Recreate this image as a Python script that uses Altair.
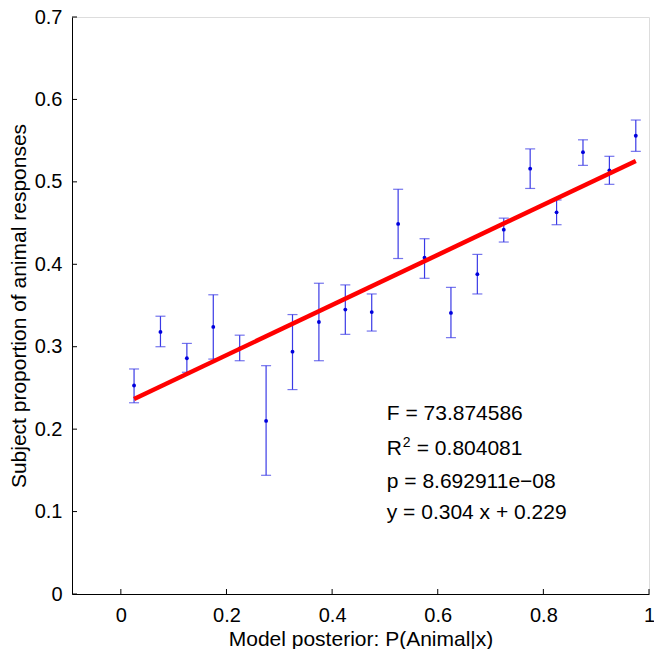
import altair as alt
import pandas as pd

# ---- data ----
bin_x = [0.025, 0.075, 0.125, 0.175, 0.225, 0.275, 0.325, 0.375, 0.425, 0.475,
         0.525, 0.575, 0.625, 0.675, 0.725, 0.775, 0.825, 0.875, 0.925, 0.975]
mean_y = [0.253, 0.318, 0.286, 0.324, 0.298, 0.210, 0.294, 0.330, 0.345, 0.342,
          0.449, 0.408, 0.341, 0.388, 0.442, 0.516, 0.463, 0.536, 0.514, 0.556]
upper_y = [0.273, 0.337, 0.304, 0.363, 0.314, 0.277, 0.339, 0.377, 0.375, 0.364,
           0.491, 0.431, 0.372, 0.412, 0.456, 0.540, 0.478, 0.551, 0.531, 0.575]
lower_y = [0.232, 0.300, 0.269, 0.285, 0.283, 0.144, 0.248, 0.283, 0.315, 0.319,
           0.407, 0.383, 0.311, 0.364, 0.427, 0.492, 0.448, 0.520, 0.497, 0.537]

fit_x = [0.025, 0.975]
fit_y = [0.2366, 0.5254]

x_ticks = [0, 0.2, 0.4, 0.6, 0.8, 1]
y_ticks = [0, 0.1, 0.2, 0.3, 0.4, 0.5, 0.6, 0.7]

ann_lines = ["F = 73.874586", "R", "p = 8.692911e\u221208", "y = 0.304 x + 0.229"]
ann_y = [0.2107, 0.1683, 0.1288, 0.0906]
ann_x = 0.5035
r2_rest = "= 0.804081"
r2_sup = "2"

FONT = "Liberation Sans"

df = pd.DataFrame({"x": bin_x, "m": mean_y, "hi": upper_y, "lo": lower_y})
fit = pd.DataFrame({"x": fit_x, "y": fit_y})
ann = pd.DataFrame({"x": [ann_x] * 4, "y": ann_y, "t": ann_lines})
r2 = pd.DataFrame({"x": [ann_x], "y": [ann_y[1]], "t": [r2_rest], "s": [r2_sup]})
xt = pd.DataFrame({"v": x_ticks})
yt = pd.DataFrame({"v": y_ticks})

xscale = alt.Scale(domain=[-0.0925, 1], nice=False, zero=False)
yscale = alt.Scale(domain=[0, 0.7], nice=False, zero=False)

xaxis = alt.Axis(values=x_ticks, format="~g", ticks=False, grid=False,
                 domainColor="black", domainWidth=1,
                 labelFont=FONT, labelFontSize=20, labelColor="black",
                 labelPadding=11, labelFlush=False, labelOverlap=False,
                 title="Model posterior: P(Animal|x)", titleFont=FONT,
                 titleFontSize=21, titleFontWeight="normal", titleColor="black",
                 titleBaseline="alphabetic", titleY=51)
yaxis = alt.Axis(values=y_ticks, format="~g", ticks=False, grid=False,
                 domainColor="black", domainWidth=1,
                 labelFont=FONT, labelFontSize=20, labelColor="black",
                 labelPadding=10, labelFlush=False, labelOverlap=False,
                 title="Subject proportion of animal responses", titleFont=FONT,
                 titleFontSize=21, titleFontWeight="normal", titleColor="black",
                 titleBaseline="alphabetic", titleAngle=270, titleX=-47,
                 titleY=288.5, titleAlign="center")

ERR = "#3a3ae6"

bars = alt.Chart(df).mark_rule(color=ERR, strokeWidth=1.2).encode(
    x=alt.X("x:Q", scale=xscale, axis=xaxis),
    y=alt.Y("lo:Q", scale=yscale, axis=yaxis),
    y2="hi:Q",
)
cap_hi = alt.Chart(df).mark_tick(color=ERR, orient="horizontal", size=10, thickness=1.2).encode(
    x=alt.X("x:Q", scale=xscale), y=alt.Y("hi:Q", scale=yscale))
cap_lo = alt.Chart(df).mark_tick(color=ERR, orient="horizontal", size=10, thickness=1.2).encode(
    x=alt.X("x:Q", scale=xscale), y=alt.Y("lo:Q", scale=yscale))
dots = alt.Chart(df).mark_circle(color="#0000dd", size=15, opacity=1).encode(
    x=alt.X("x:Q", scale=xscale), y=alt.Y("m:Q", scale=yscale))

line = alt.Chart(fit).mark_line(color="#ff0000", strokeWidth=4.5).encode(
    x=alt.X("x:Q", scale=xscale), y=alt.Y("y:Q", scale=yscale))

text = alt.Chart(ann).mark_text(align="left", baseline="alphabetic", font=FONT,
                                fontSize=21, color="black").encode(
    x=alt.X("x:Q", scale=xscale), y=alt.Y("y:Q", scale=yscale), text="t:N")
r2_eq = alt.Chart(r2).mark_text(align="left", baseline="alphabetic", font=FONT,
                                fontSize=21, color="black", dx=30).encode(
    x=alt.X("x:Q", scale=xscale), y=alt.Y("y:Q", scale=yscale), text="t:N")
r2_s = alt.Chart(r2).mark_text(align="left", baseline="alphabetic", font=FONT,
                               fontSize=14, color="black", dx=16, dy=-8).encode(
    x=alt.X("x:Q", scale=xscale), y=alt.Y("y:Q", scale=yscale), text="s:N")

xtick = alt.Chart(xt).mark_rule(color="black", strokeWidth=1).encode(
    x=alt.X("v:Q", scale=xscale), y=alt.value(577), y2=alt.value(572))
ytick = alt.Chart(yt).mark_rule(color="black", strokeWidth=1).encode(
    y=alt.Y("v:Q", scale=yscale), x=alt.value(0), x2=alt.value(5))

chart = alt.layer(bars, cap_hi, cap_lo, dots, line, text, r2_eq, r2_s, xtick, ytick).properties(
    width=577, height=577, autosize="none",
    padding={"left": 64, "top": 9, "right": 5, "bottom": 55},
).configure_view(stroke=None).configure(background="white")

chart.save("out.html", embed_options={"renderer": "svg", "actions": False})
